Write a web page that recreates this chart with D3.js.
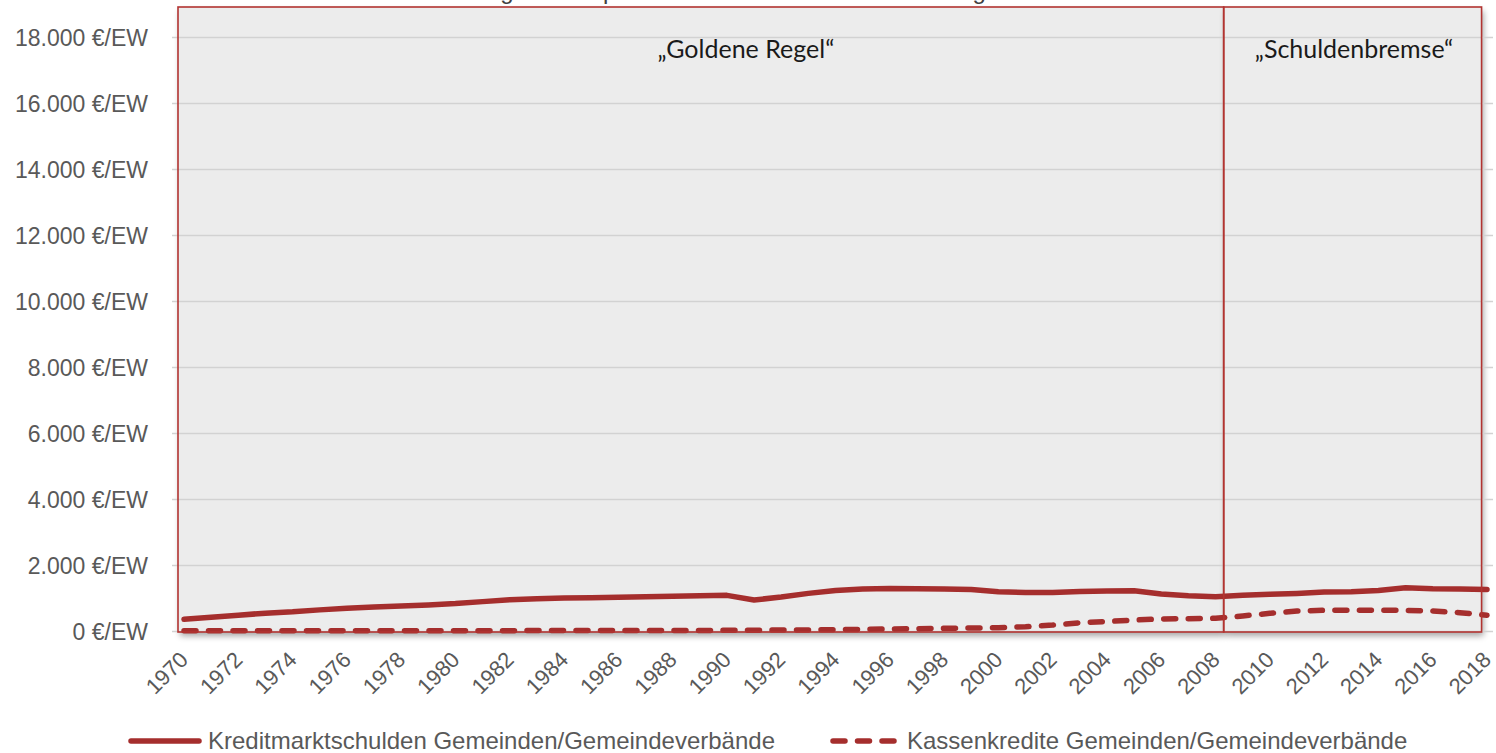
<!DOCTYPE html>
<html>
<head>
<meta charset="utf-8">
<script src="https://cdn.jsdelivr.net/npm/d3@7"></script>
<style>
  html, body { margin: 0; padding: 0; background: #ffffff; }
  svg { display: block; }
</style>
</head>
<body>
<svg id="chart" width="1496" height="753"></svg>
<script>
// Years (categories)
const years = d3.range(1970, 2019);

// Kreditmarktschulden Gemeinden/Gemeindeverbände, €/EW
const kreditmarkt = [
  355, 420, 480, 540, 580, 640, 690, 730, 760, 790,
  830, 890, 950, 980, 1000, 1010, 1020, 1040, 1050, 1070,
  1080, 940, 1030, 1140, 1230, 1270, 1290, 1280, 1270, 1260,
  1190, 1170, 1170, 1200, 1210, 1220, 1120, 1070, 1040, 1080,
  1110, 1140, 1180, 1190, 1230, 1310, 1280, 1270, 1260
];

// Kassenkredite Gemeinden/Gemeindeverbände, €/EW
const kassen = [
  5, 5, 5, 6, 6, 7, 7, 8, 8, 9,
  10, 10, 11, 12, 12, 13, 14, 15, 16, 18,
  20, 24, 28, 34, 40, 50, 60, 70, 80, 90,
  100, 130, 180, 250, 290, 333, 364, 373, 384, 455,
  535, 606, 627, 630, 630, 625, 606, 555, 475
];

// Axis ticks and labels
const yTicks = d3.range(0, 18001, 2000);
const xTickYears = years.filter(y => (y - 1970) % 2 === 0);

// Fiscal-rule periods shown as framed regions
const periods = [
  { label: "\u201EGoldene Regel\u201C", from: 1970, to: 2008.3, labelAt: 1990.7 },
  { label: "\u201ESchuldenbremse\u201C", from: 2008.3, to: 2017.8, labelAt: 2013.1 }
];

const seriesNames = [
  "Kreditmarktschulden Gemeinden/Gemeindeverbände",
  "Kassenkredite Gemeinden/Gemeindeverbände"
];

const titleText = "Verschuldung in Euro pro Einwohner der Kommunen: Regelwandel";

const red = "#a52e2d";
const frameRed = "#b23431";
const textGrey = "#595959";
const axisFont = "'Liberation Sans', Arial, sans-serif";

const svg = d3.select("#chart");

const plotLeft = 172, plotRight = 1493;
const frameLeft = 178, frameTop = 7, frameBottom = 632;

const x = d3.scaleLinear().domain([1970, 2018]).range([184, 1487]);
const y = d3.scaleLinear().domain([0, 18000]).range([631, 37]);

// Drop shadow for the framed regions
const defs = svg.append("defs");
const shadow = defs.append("filter").attr("id", "shadow")
  .attr("x", "-5%").attr("y", "-5%").attr("width", "110%").attr("height", "110%");
shadow.append("feGaussianBlur").attr("in", "SourceAlpha").attr("stdDeviation", 3).attr("result", "blur");
shadow.append("feOffset").attr("in", "blur").attr("dx", 2).attr("dy", 4).attr("result", "off");
shadow.append("feComponentTransfer").attr("in", "off").attr("result", "shade")
  .append("feFuncA").attr("type", "linear").attr("slope", 0.35);
const merge = shadow.append("feMerge");
merge.append("feMergeNode").attr("in", "shade");
merge.append("feMergeNode").attr("in", "SourceGraphic");

// Title (sits mostly above the visible area)
const title = svg.append("text")
  .attr("y", -1.5)
  .attr("font-family", axisFont)
  .attr("font-size", 24)
  .attr("fill", "#404040")
  .text(titleText);
{
  const node = title.node();
  const gIdx = titleText.indexOf("g");
  const before = node.getSubStringLength(0, gIdx);
  const gw = node.getSubStringLength(gIdx, 1);
  title.attr("x", 507 - before - gw / 2);
}

const frameX = p => p.from === 1970 ? frameLeft : x(p.from);

// Framed period regions (filled, with shadow)
const frames = svg.append("g");
periods.forEach(p => {
  frames.append("rect")
    .attr("x", frameX(p))
    .attr("y", frameTop)
    .attr("width", x(p.to) - frameX(p))
    .attr("height", frameBottom - frameTop)
    .attr("fill", "#ececec")
    .attr("filter", "url(#shadow)");
});

// Horizontal gridlines
const grid = svg.append("g")
  .attr("transform", `translate(${plotLeft},0)`)
  .call(d3.axisLeft(y).tickValues(yTicks).tickSize(-(plotRight - plotLeft)).tickFormat(""));
grid.select(".domain").remove();
grid.selectAll(".tick line").attr("stroke", "#d2d2d2").attr("stroke-width", 1.5);

// Y axis labels
const yAxis = svg.append("g")
  .attr("transform", `translate(148,0)`)
  .call(d3.axisLeft(y).tickValues(yTicks).tickSize(0).tickPadding(0)
    .tickFormat(d => d3.format(",")(d).replace(/,/g, ".") + " €/EW"));
yAxis.select(".domain").remove();
yAxis.selectAll("text")
  .attr("font-family", axisFont)
  .attr("font-size", 23)
  .attr("fill", textGrey)
  .attr("dy", "0.35em");

// X axis labels, rotated
const xAxis = svg.append("g")
  .attr("transform", `translate(0,640)`)
  .call(d3.axisBottom(x).tickValues(xTickYears).tickSize(0).tickFormat(d3.format("d")));
xAxis.select(".domain").remove();
xAxis.selectAll("text")
  .attr("font-family", axisFont)
  .attr("font-size", 22)
  .attr("fill", textGrey)
  .attr("text-anchor", "end")
  .attr("x", 0)
  .attr("y", 0)
  .attr("dy", "0")
  .attr("transform", "translate(5,21) rotate(-45)");

// Series lines
const line = d3.line().x((d, i) => x(years[i])).y(d => y(d)).curve(d3.curveLinear);

svg.append("path")
  .datum(kreditmarkt)
  .attr("d", line)
  .attr("fill", "none")
  .attr("stroke", red)
  .attr("stroke-width", 5.5)
  .attr("stroke-linecap", "round")
  .attr("stroke-linejoin", "round");

svg.append("path")
  .datum(kassen)
  .attr("d", line)
  .attr("fill", "none")
  .attr("stroke", red)
  .attr("stroke-width", 5.5)
  .attr("stroke-linecap", "round")
  .attr("stroke-linejoin", "round")
  .attr("stroke-dasharray", "12,12.5");

// Frame outlines and period labels on top
periods.forEach(p => {
  svg.append("rect")
    .attr("x", frameX(p))
    .attr("y", frameTop)
    .attr("width", x(p.to) - frameX(p))
    .attr("height", frameBottom - frameTop)
    .attr("fill", "none")
    .attr("stroke", frameRed)
    .attr("stroke-width", 1.6);
  svg.append("text")
    .attr("x", x(p.labelAt))
    .attr("y", 58)
    .attr("text-anchor", "middle")
    .attr("font-family", "Lato, 'Open Sans', sans-serif")
    .attr("font-size", 25)
    .attr("fill", "#1a1a1a")
    .text(p.label);
});

// Legend
const legend = svg.append("g").attr("transform", "translate(0,741)");
legend.append("line")
  .attr("x1", 131).attr("x2", 199).attr("y1", 0).attr("y2", 0)
  .attr("stroke", red).attr("stroke-width", 5.5).attr("stroke-linecap", "round");
legend.append("text")
  .attr("x", 208).attr("y", 0).attr("dy", "0.35em")
  .attr("font-family", axisFont).attr("font-size", 24).attr("fill", textGrey)
  .text(seriesNames[0]);
legend.append("line")
  .attr("x1", 833).attr("x2", 895).attr("y1", 0).attr("y2", 0)
  .attr("stroke", red).attr("stroke-width", 5.5).attr("stroke-linecap", "round")
  .attr("stroke-dasharray", "12,12.5");
legend.append("text")
  .attr("x", 907).attr("y", 0).attr("dy", "0.35em")
  .attr("font-family", axisFont).attr("font-size", 24).attr("fill", textGrey)
  .text(seriesNames[1]);
</script>
</body>
</html>
